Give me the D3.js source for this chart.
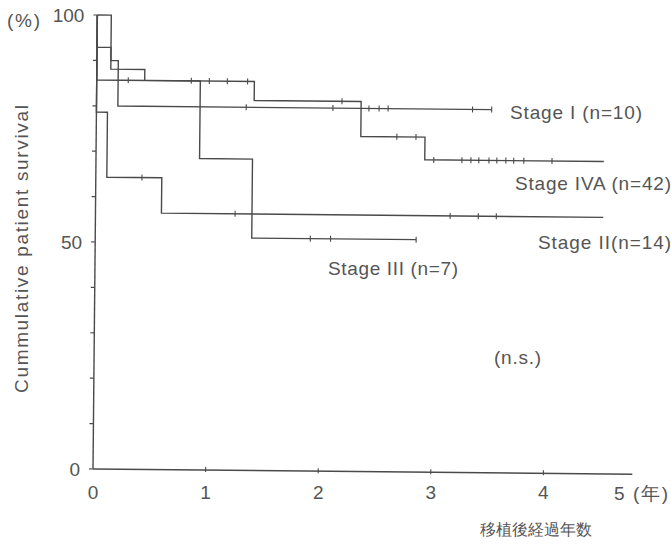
<!DOCTYPE html>
<html>
<head>
<meta charset="utf-8">
<script src="https://cdn.jsdelivr.net/npm/d3@7/dist/d3.min.js"></script>
<style>
  html, body { margin: 0; padding: 0; background: #fff; }
  svg { display: block; }
  text { font-family: "Liberation Sans", Arial, sans-serif; fill: #555; }
</style>
</head>
<body>
<svg id="chart" width="671" height="546"></svg>
<script>
// Kaplan–Meier steps: times (years) where survival changes, survival (%) after each time,
// last follow-up time, and censored observations (years).
const stageI_t    = [0, 0.124, 0.19];
const stageI_s    = [100, 90, 80];
const stageI_end  = 3.51;
const stageI_cens = [1.33, 2.1, 2.42, 2.51, 2.59, 3.34, 3.51];

const stageIVA_t    = [0, 0, 0.124, 0.426, 1.40, 2.35, 2.92];
const stageIVA_s    = [100, 92.9, 88.1, 85.7, 81.5, 73.8, 68.8];
const stageIVA_end  = 4.51;
const stageIVA_cens = [0.84, 1.0, 1.16, 1.34, 2.18, 2.67, 2.84, 3.0, 3.25, 3.33, 3.4, 3.49, 3.56, 3.64, 3.71, 3.8, 4.05];

const stageII_t    = [0, 0, 0.098, 0.586];
const stageII_s    = [100, 78.6, 64.3, 56.5];
const stageII_end  = 4.51;
const stageII_cens = [0.41, 1.24, 3.15, 3.4, 3.56];

const stageIII_t    = [0, 0, 0.92, 1.39];
const stageIII_s    = [100, 85.7, 68.6, 51.2];
const stageIII_end  = 2.85;
const stageIII_cens = [0.28, 1.91, 2.09, 2.85];

const stageLabels = ["Stage I (n=10)", "Stage IVA (n=42)", "Stage II(n=14)", "Stage III (n=7)"];
const xTicks = [0, 1, 2, 3, 4];
const yTicks = [0, 10, 20, 30, 40, 50, 60, 70, 80, 90, 100];
const yTickLabels = [0, 50, 100];

const svg = d3.select("#chart");
const ox = 93, oy = 469;
const x = d3.scaleLinear().domain([0, 5]).range([ox, ox + 112.6 * 5]);
const y = d3.scaleLinear().domain([0, 100]).range([oy, 15]);

const ink = "#4a4a4a";
// the whole plot frame sits slightly turned
const tilt = 0.55;
const plot = svg.append("g").attr("transform", `rotate(${tilt} ${ox} ${oy})`);

// axes
plot.append("line").attr("x1", x(0)).attr("x2", x(4.79)).attr("y1", y(0)).attr("y2", y(0))
  .attr("stroke", ink).attr("stroke-width", 1.4);
plot.append("line").attr("x1", x(0)).attr("x2", x(0)).attr("y1", y(0)).attr("y2", y(100))
  .attr("stroke", ink).attr("stroke-width", 1.4);
plot.selectAll(".yt").data(yTicks).join("line")
  .attr("x1", x(0) - 4).attr("x2", x(0)).attr("y1", d => y(d)).attr("y2", d => y(d))
  .attr("stroke", ink).attr("stroke-width", 1.2);
plot.selectAll(".xt").data(xTicks.slice(1)).join("line")
  .attr("x1", d => x(d)).attr("x2", d => x(d)).attr("y1", y(0) - 3).attr("y2", y(0) + 2)
  .attr("stroke", ink).attr("stroke-width", 1.1);

function stepPath(ts, ss, end) {
  let p = `M${x(ts[0])},${y(ss[0])}`;
  for (let i = 1; i < ts.length; i++) p += `H${x(ts[i])}V${y(ss[i])}`;
  return p + `H${x(end)}`;
}
function survAt(ts, ss, t) {
  let v = ss[0];
  for (let i = 0; i < ts.length; i++) if (ts[i] <= t) v = ss[i];
  return v;
}

const curves = [
  [stageI_t, stageI_s, stageI_end, stageI_cens],
  [stageIVA_t, stageIVA_s, stageIVA_end, stageIVA_cens],
  [stageII_t, stageII_s, stageII_end, stageII_cens],
  [stageIII_t, stageIII_s, stageIII_end, stageIII_cens]
];
curves.forEach(([ts, ss, end, cens]) => {
  plot.append("path").attr("d", stepPath(ts, ss, end))
    .attr("fill", "none").attr("stroke", ink).attr("stroke-width", 1.4);
  plot.selectAll(null).data(cens).join("line")
    .attr("x1", d => x(d)).attr("x2", d => x(d))
    .attr("y1", d => y(survAt(ts, ss, d)) - 3).attr("y2", d => y(survAt(ts, ss, d)) + 3)
    .attr("stroke", ink).attr("stroke-width", 1.1);
});

// tick labels (the turned frame pushes the upper labels a little to the right)
const lean = Math.tan(tilt * Math.PI / 180);
svg.selectAll(".yl").data(yTickLabels).join("text")
  .attr("x", d => 80 + (oy - y(d)) * lean).attr("y", d => y(d) + 7).attr("text-anchor", "end")
  .attr("font-size", 19).text(d => d);
svg.selectAll(".xl").data(xTicks).join("text")
  .attr("x", d => x(d)).attr("y", 499).attr("text-anchor", "middle")
  .attr("font-size", 19).text(d => d);
svg.append("text").attr("x", 614).attr("y", 500).attr("font-size", 19)
  .attr("textLength", 54).attr("lengthAdjust", "spacing").text("5 (年)");
svg.append("text").attr("x", 7).attr("y", 27).attr("font-size", 19)
  .attr("textLength", 33).attr("lengthAdjust", "spacing").text("(%)");

// axis titles
svg.append("text").attr("transform", "translate(28,249) rotate(-90)")
  .attr("text-anchor", "middle").attr("font-size", 19)
  .attr("textLength", 288).attr("lengthAdjust", "spacing")
  .text("Cummulative patient survival");
svg.append("text").attr("x", 480).attr("y", 535).attr("font-size", 16)
  .attr("font-family", "'Noto Sans CJK JP', sans-serif").text("移植後経過年数");

// curve labels
const labelPos = [[510, 119], [515, 190], [538, 249], [328, 275]];
const labelLen = [132, 156, 133, 130];
svg.selectAll(".sl").data(stageLabels).join("text")
  .attr("x", (d, i) => labelPos[i][0]).attr("y", (d, i) => labelPos[i][1])
  .attr("font-size", 19).attr("textLength", (d, i) => labelLen[i])
  .attr("lengthAdjust", "spacing").text(d => d);
svg.append("text").attr("x", 494).attr("y", 364).attr("font-size", 19)
  .attr("textLength", 47).attr("lengthAdjust", "spacing").text("(n.s.)");
</script>
</body>
</html>
